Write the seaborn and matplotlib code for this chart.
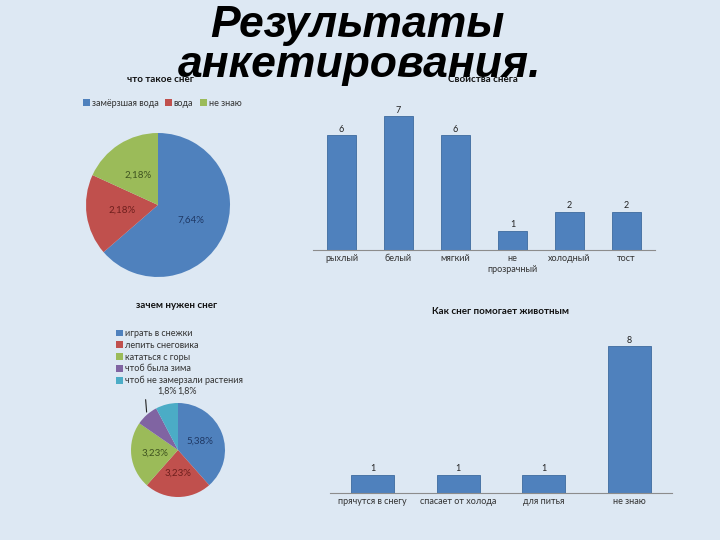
import matplotlib
matplotlib.use("Agg")
import matplotlib.pyplot as plt
import seaborn as sns
import numpy as np

# --- data ---
what_labels = ["замёрзшая вода", "вода", "не знаю"]
what_values = [7, 2, 2]

props_cats = ["рыхлый", "белый", "мягкий", "не\nпрозрачный", "холодный", "тост"]
props_values = [6, 7, 6, 1, 2, 2]

why_labels = ["играть в снежки", "лепить снеговика", "кататься с горы",
              "чтоб была зима", "чтоб не замерзали растения"]
why_values = [5, 3, 3, 1, 1]

animals_cats = ["прячутся в снегу", "спасает от холода", "для питья", "не знаю"]
animals_values = [1, 1, 1, 8]

PIE_COLORS = ["#4F81BD", "#C0504D", "#9BBB59", "#8064A2", "#4BACC6"]
PIE_TEXT = ["#1f3864", "#6e1f1d", "#3f5420", "#3b2c55", "#1f5666"]
BAR_COLOR = "#4F81BD"
BG = "#dde8f3"

sns.set_theme(style="white")
plt.rcParams['font.family'] = ['Lato', 'DejaVu Sans']

W, H = 720, 540


def box(x0, y0, x1, y1):
    # pixel box -> figure fraction
    return [x0 / W, 1 - y1 / H, (x1 - x0) / W, (y1 - y0) / H]


def pct_labels(values):
    total = sum(values)
    return [f"{v},{round(100 * v / total)}%" for v in values]


fig = plt.figure(figsize=(7.2, 5.4), dpi=100, facecolor=BG)


def draw_pie(ax, values, inside):
    wedges, _ = ax.pie(values, colors=PIE_COLORS[:len(values)], startangle=90,
                       counterclock=False, radius=1,
                       wedgeprops=dict(linewidth=0))
    ax.set_xlim(-1, 1)
    ax.set_ylim(-1, 1)
    ax.set_aspect("equal")
    ax.axis("off")
    labs = pct_labels(values)
    for i, (w, lab, ins) in enumerate(zip(wedges, labs, inside)):
        if not ins:
            continue
        ang = np.deg2rad((w.theta1 + w.theta2) / 2)
        ax.text(0.5 * np.cos(ang), 0.5 * np.sin(ang), lab, ha="center",
                va="center", fontsize=7, color=PIE_TEXT[i])
    return wedges, labs


def draw_bars(ax, cats, values, top):
    sns.barplot(x=cats, y=values, color=BAR_COLOR, saturation=1, width=0.5,
                edgecolor="#3d6a9e", linewidth=0.6, ax=ax)
    ax.set_facecolor("none")
    ax.set_ylim(0, top)
    ax.set_yticks([])
    for s in ["top", "right", "left"]:
        ax.spines[s].set_visible(False)
    ax.spines["bottom"].set_color("#8c8c8c")
    ax.spines["bottom"].set_linewidth(0.8)
    ax.tick_params(axis="x", length=0, labelsize=6.5, labelcolor="#333333", pad=3)
    ax.bar_label(ax.containers[0], fontsize=6.5, color="#222222", padding=1)


# --- pie 1: что такое снег ---
ax1 = fig.add_axes(box(86, 133, 230, 277))
w1, _ = draw_pie(ax1, what_values, [True, True, True])
ax1.legend(w1, what_labels, ncol=3, loc="center", frameon=False,
           bbox_to_anchor=(162 / W, 1 - 103 / H), bbox_transform=fig.transFigure,
           fontsize=6.5, handlelength=0.8, handleheight=0.8, handletextpad=0.2,
           columnspacing=0.7, labelcolor="#333333")
fig.text(160 / W, 1 - 80 / H, "что такое снег", ha="center", va="center",
         fontsize=7, fontweight="bold", color="#111111")

# --- bar 1: свойства снега ---
ax2 = fig.add_axes(box(313, 97, 655, 250))
draw_bars(ax2, props_cats, props_values, 8)
fig.text(483 / W, 1 - 80 / H, "Свойства снега", ha="center", va="center",
         fontsize=7, fontweight="bold", color="#111111")

# --- pie 2: зачем нужен снег ---
ax3 = fig.add_axes(box(131, 403, 225, 497))
w3, labs3 = draw_pie(ax3, why_values, [True, True, True, False, False])
ax3.legend(w3, why_labels, loc="upper left", frameon=False,
           bbox_to_anchor=(108 / W, 1 - 321 / H), bbox_transform=fig.transFigure,
           fontsize=6.5, handlelength=0.8, handleheight=0.8, handletextpad=0.2,
           labelspacing=0.3, labelcolor="#333333")
ax3.text(-0.02, 1.26, labs3[3], ha="right", va="center", fontsize=6.5, color="#333333")
ax3.text(-0.02, 1.26, labs3[4], ha="left", va="center", fontsize=6.5, color="#333333")
ang = np.deg2rad((w3[3].theta1 + w3[3].theta2) / 2)
ax3.annotate("", xy=(np.cos(ang), np.sin(ang)), xytext=(np.cos(ang) - 0.03, 1.13),
             arrowprops=dict(arrowstyle="-", color="#222222", lw=0.8))
fig.text(177 / W, 1 - 305 / H, "зачем нужен снег", ha="center", va="center",
         fontsize=7, fontweight="bold", color="#111111")

# --- bar 2: как снег помогает животным ---
ax4 = fig.add_axes(box(330, 328, 672, 493))
draw_bars(ax4, animals_cats, animals_values, 9)
fig.text(501 / W, 1 - 311 / H, "Как снег помогает животным", ha="center",
         va="center", fontsize=7, fontweight="bold", color="#111111")

# --- main title ---
title_font = dict(family=["Liberation Sans", "DejaVu Sans"], fontsize=32,
                  fontweight="bold", fontstyle="italic", color="black",
                  ha="center", va="center", zorder=10)
fig.text(357 / W, 1 - 25 / H, "Результаты", **title_font)
fig.text(360 / W, 1 - 66 / H, "анкетирования.", **title_font)

fig.savefig("out.png", dpi=100, facecolor=BG)
